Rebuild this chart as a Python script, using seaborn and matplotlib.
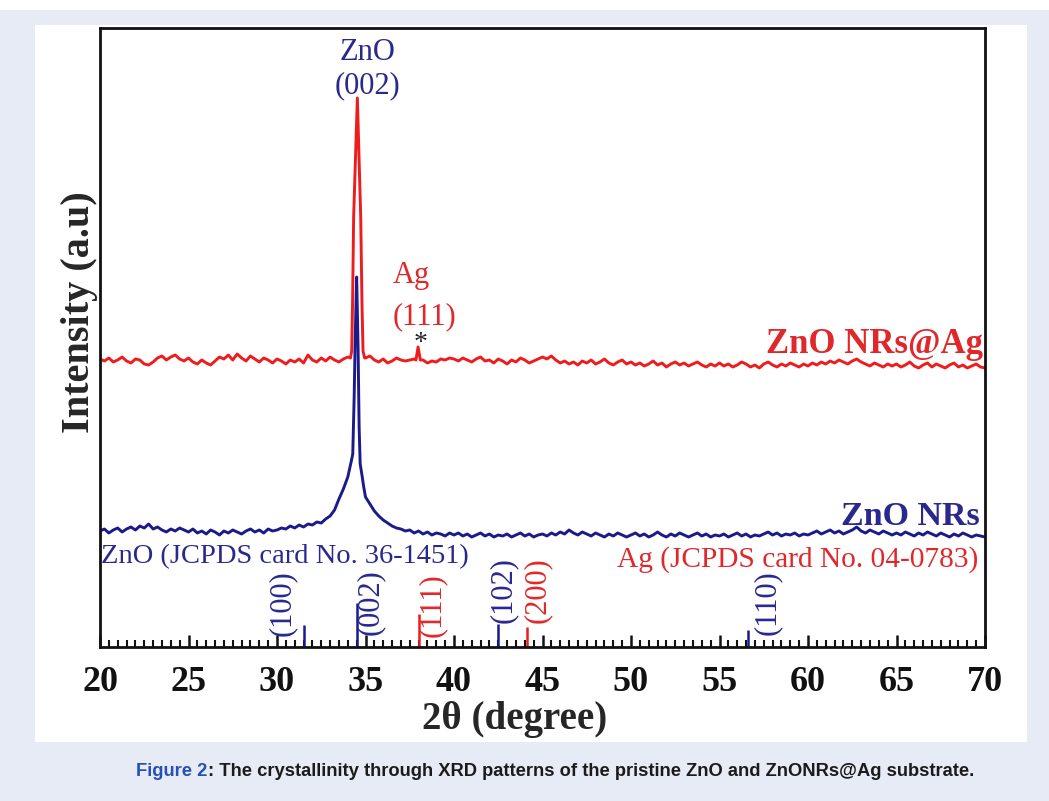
import numpy as np
import matplotlib
matplotlib.use("Agg")
import matplotlib.pyplot as plt
import seaborn as sns
from matplotlib.patches import Rectangle
from matplotlib.ticker import MultipleLocator

# ---------------- data (intensity in a.u.) ----------------
two_theta_grid = np.round(np.arange(20, 70.001, 0.25), 2)

red_base = [
    288, 286, 289, 285, 287, 290, 286, 284, 288, 287, 283, 282, 285, 289, 291, 287, 290, 292, 288, 286,
    289, 285, 283, 287, 284, 282, 286, 290, 288, 292, 287, 293, 289, 286, 291, 288, 285, 289, 287, 284,
    288, 286, 283, 287, 285, 288, 284, 292, 287, 285, 289, 286, 290, 287, 285, 288, 290, 289, 290, 288,
    289, 291, 287, 285, 288, 284, 286, 289, 287, 286, 287, 288, 288, 287, 284, 286, 285, 288, 287, 289,
    288, 286, 289, 287, 285, 288, 290, 286, 287, 284, 288, 286, 283, 287, 285, 289, 287, 284, 286, 288,
    290, 288, 291, 287, 284, 286, 283, 285, 282, 286, 284, 287, 283, 285, 288, 284, 282, 285, 287, 283,
    285, 282, 284, 281, 283, 286, 282, 284, 280, 283, 285, 282, 284, 281, 283, 285, 282, 280, 283, 281,
    284, 281, 283, 280, 282, 285, 283, 280, 282, 279, 283, 285, 282, 280, 283, 281, 284, 282, 280, 283,
    281, 284, 282, 285, 283, 286, 284, 287, 285, 283, 286, 288, 285, 283, 281, 284, 282, 280, 283, 281,
    283, 280, 282, 285, 281, 279, 282, 284, 280, 283, 281, 279, 282, 284, 280, 282, 279, 281, 283, 280,
    279,
]
red_zno_peak_x = [34.15, 34.22, 34.27, 34.33, 34.54, 34.73, 34.80, 34.86, 34.95]
red_zno_peak_y = [289, 296, 345, 430, 549, 430, 345, 296, 289]
red_ag_peak_x = [37.85, 37.97, 38.10]
red_ag_peak_y = [287, 300, 287]

blue_base = [
    116, 118, 114, 117, 119, 115, 118, 120, 117, 121, 119, 123, 118, 120, 117, 115, 118, 116, 119, 117,
    115, 118, 114, 116, 113, 117, 115, 112, 116, 114, 117, 115, 113, 116, 118, 115, 117, 114, 118, 116,
    117, 119, 118, 121, 119, 122, 120, 123, 122, 125, 124, 128, 131, 137, 148, 158, 170, 190, 370, 183,
    150, 143, 136, 131, 127, 124, 121, 119, 118, 116, 117, 114, 116, 113, 115, 112, 114, 113, 111, 114,
    112, 114, 111, 113, 110, 112, 114, 111, 113, 110, 112, 111, 113, 110, 112, 114, 111, 113, 110, 112,
    113, 111, 114, 112, 115, 113, 117, 114, 112, 115, 113, 111, 114, 112, 110, 113, 111, 114, 112, 110,
    112, 114, 111, 113, 110, 112, 115, 112, 110, 113, 111, 114, 112, 110, 112, 114, 111, 113, 110, 112,
    111, 113, 110, 112, 114, 111, 113, 110, 112, 111, 113, 115, 112, 114, 111, 113, 112, 114, 111, 113,
    112, 114, 116, 113, 115, 117, 114, 116, 113, 115, 117, 120, 116, 114, 117, 115, 113, 116, 114, 112,
    114, 112, 115, 113, 111, 114, 112, 115, 113, 111, 114, 112, 110, 113, 111, 114, 112, 110, 112, 111,
    110,
]
blue_peak_x = [34.10, 34.20, 34.28, 34.36, 34.42, 34.50, 34.58, 34.64, 34.70, 34.80, 34.90]
blue_peak_y = [178, 186, 193, 250, 310, 370, 300, 220, 183, 172, 160]

# reference (JCPDS) sticks
zno_hkl = ["(100)", "(002)", "(102)", "(110)"]
zno_pos = [31.5, 34.5, 42.5, 56.6]
zno_height = [22, 44, 23, 17]
ag_hkl = ["(111)", "(200)"]
ag_pos = [38.0, 44.1]
ag_height = [33, 20]

x_ticks = [20, 25, 30, 35, 40, 45, 50, 55, 60, 65, 70]

# ---------------- layout (not data) ----------------
zno_label_xy = [(30.28, 44), (35.25, 45), (42.8, 57), (57.7, 44)]
ag_label_xy = [(38.8, 42), (44.7, 57)]


def merge(base, px, py, gx=two_theta_grid):
    gy = np.asarray(base, dtype=float)
    px = np.asarray(px, dtype=float)
    py = np.asarray(py, dtype=float)
    keep = (gx < px.min()) | (gx > px.max())
    x = np.concatenate([gx[keep], px])
    y = np.concatenate([gy[keep], py])
    o = np.argsort(x)
    return x[o], y[o]


red_x, red_y = merge(red_base, red_zno_peak_x, red_zno_peak_y)
red_x, red_y = merge(red_y, red_ag_peak_x, red_ag_peak_y, gx=red_x)
blue_x, blue_y = merge(blue_base, blue_peak_x, blue_peak_y)

# ---------------- style ----------------
sns.set_style("white")
plt.rcParams["font.family"] = ["Liberation Serif", "DejaVu Serif"]
plt.rcParams["mathtext.fontset"] = "stix"

RED_LINE = "#ee1c1c"
RED_TXT = "#e0282a"
BLUE_LINE = "#1a1a8a"
BLUE_TXT = "#28288f"

fig = plt.figure(figsize=(10.49, 8.01), dpi=100, facecolor="#e7ebf5")
W, H = 1049, 801
# white top strip and white chart panel
fig.patches.append(Rectangle((0, 1 - 10 / H), 1, 10 / H, transform=fig.transFigure,
                             facecolor="white", edgecolor="none", zorder=-2))
fig.patches.append(Rectangle((35 / W, 1 - 742 / H), (1027 - 35) / W, (742 - 25) / H,
                             transform=fig.transFigure, facecolor="white",
                             edgecolor="none", zorder=-1))

ax = fig.add_axes([100 / W, 1 - 647 / H, (985 - 100) / W, (647 - 28) / H])
ax.set_facecolor("white")

sns.lineplot(x=red_x, y=red_y, ax=ax, color=RED_LINE, lw=2.1, estimator=None, sort=False)
sns.lineplot(x=blue_x, y=blue_y, ax=ax, color=BLUE_LINE, lw=2.1, estimator=None, sort=False)

ax.vlines(zno_pos, 0, zno_height, color=BLUE_LINE, lw=1.8)
ax.vlines(ag_pos, 0, ag_height, color=RED_LINE, lw=1.8)
for lab, (lx, ly) in zip(zno_hkl, zno_label_xy):
    ax.text(lx, ly, lab, rotation=90, ha="center", va="center", fontsize=22, color=BLUE_TXT)
for lab, (lx, ly) in zip(ag_hkl, ag_label_xy):
    ax.text(lx, ly, lab, rotation=90, ha="center", va="center", fontsize=22, color=RED_TXT)

ax.text(20.05, 84, "ZnO (JCPDS card No. 36-1451)", ha="left", va="baseline",
        fontsize=20.5, color=BLUE_TXT)
ax.text(69.6, 80, "Ag (JCPDS card No. 04-0783)", ha="right", va="baseline",
        fontsize=21.2, color=RED_TXT)

ax.text(69.9, 294, "ZnO NRs@Ag", ha="right", va="baseline", fontsize=25,
        fontweight="bold", color=RED_TXT)
ax.text(69.7, 122, "ZnO NRs", ha="right", va="baseline", fontsize=24.5,
        fontweight="bold", color=BLUE_TXT)

ax.text(35.14, 587, "ZnO", ha="center", va="baseline", fontsize=22, color=BLUE_TXT)
ax.text(35.14, 554, "(002)", ha="center", va="baseline", fontsize=22, color=BLUE_TXT)
ax.text(36.55, 364, "Ag", ha="left", va="baseline", fontsize=22, color=RED_TXT)
ax.text(36.55, 323, "(111)", ha="left", va="baseline", fontsize=22, color=RED_TXT)
ax.text(38.1, 304, "*", ha="center", va="center", fontsize=20, color="#222222")

ax.set_xlim(20, 70)
ax.set_ylim(0, 619)
ax.set_xticks(x_ticks)
ax.set_xticklabels([str(t) for t in x_ticks], fontsize=26, fontweight="bold")
ax.xaxis.set_minor_locator(MultipleLocator(0.5))
ax.tick_params(axis="x", which="major", direction="in", length=9, width=1.8,
               pad=14, bottom=True, top=False, colors="#111111")
ax.tick_params(axis="x", which="minor", direction="in", length=5, width=1.5,
               bottom=True, top=False, colors="#111111")
ax.set_yticks([])
for sp in ax.spines.values():
    sp.set_linewidth(2.0)
    sp.set_color("#111111")

ax.set_xlabel("2θ (degree)", fontsize=28, fontweight="bold")
ax.xaxis.set_label_coords((515 - 100) / 885, -(701 - 647) / 619)
ax.set_ylabel("Intensity (a.u)", fontsize=29, fontweight="bold")
ax.yaxis.set_label_coords(-0.002, (647 - 312) / 619)

# caption
cap_font = ["Liberation Sans Narrow", "Liberation Sans", "DejaVu Sans"]
t1 = fig.text(0, 1 - 772 / H, "Figure 2", ha="left", va="center", fontsize=13.2,
              fontweight="bold", color="#2450b8", family=cap_font)
t2 = fig.text(0, 1 - 772 / H, ": The crystallinity through XRD patterns of the pristine ZnO and ZnONRs@Ag substrate.",
              ha="left", va="center", fontsize=13.2, fontweight="bold", color="#1b1b1b",
              family=cap_font)
r = fig.canvas.get_renderer()
w1 = t1.get_window_extent(r).width
w2 = t2.get_window_extent(r).width
x0 = (555 - (w1 + w2) / 2)
t1.set_x(x0 / W)
t2.set_x((x0 + w1) / W)

fig.savefig("out.png", dpi=100, facecolor=fig.get_facecolor())
